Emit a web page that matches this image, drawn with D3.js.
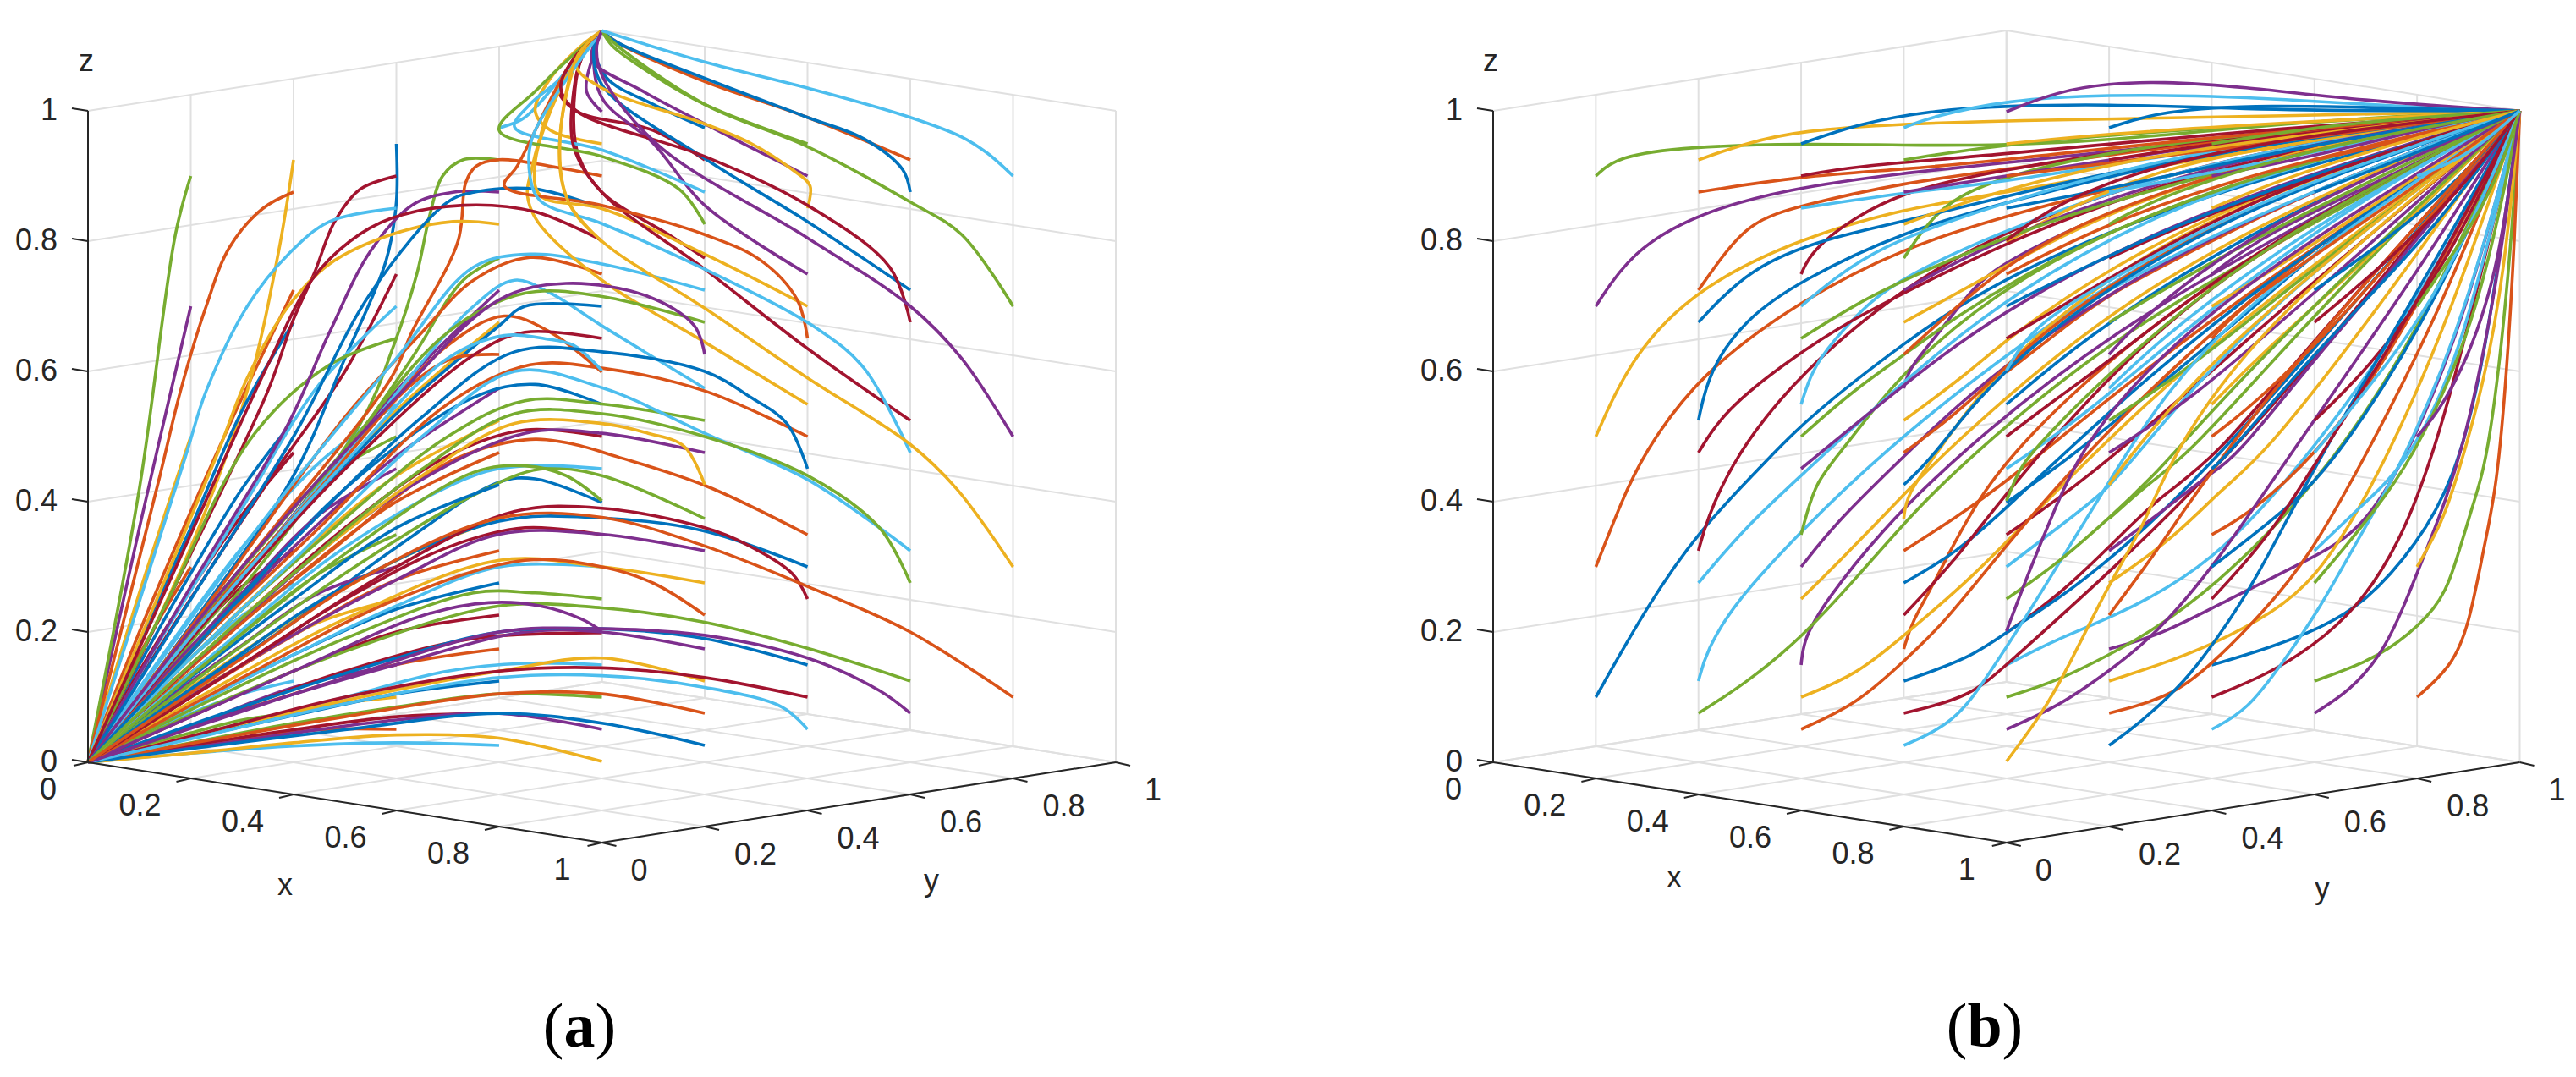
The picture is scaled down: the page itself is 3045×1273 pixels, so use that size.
<!DOCTYPE html>
<html><head><meta charset="utf-8">
<script src="https://cdnjs.cloudflare.com/ajax/libs/d3/7.8.5/d3.min.js"></script>
<style>html,body{margin:0;background:#fff}svg{display:block}</style></head>
<body><div id="c"></div>
<script>
const startVals=[.1,.3,.5,.7,.9];
const tickVals=[0,.2,.4,.6,.8,1];
const lineColors=["#0072BD","#D95319","#EDB120","#7E2F8E","#77AC30","#4DBEEE","#A2142F"];
const captions=["a","b"];
// waypoints after each start: u = x+y, h = apparent height
const pathsA=[
[.1,.058,0,0],[.1,.165,0,0],[.1,.26,0,0],[.1,.36,0,0],[.17,.81,.1,.42,0,0],
[.3,.105,.2,.075,.1,.04,0,0],[.3,.27,.2,.19,.1,.1,0,0],[.3,.42,.2,.29,.1,.15,0,0],[.3,.56,.2,.385,.1,.2,0,0],[.37,.78,.31,.57,.2,.33,0,0],
[.4,.115,.2,.055,0,0],[.45,.29,.3,.2,.15,.105,0,0],[.45,.46,.3,.33,.15,.17,0,0],[.5,.6,.35,.43,.15,.19,0,0],[.6,.86,.58,.77,.5,.62,.4,.44,.2,.21,0,0],
[.6,.15,.4,.105,.2,.055,0,0],[.6,.31,.4,.22,.2,.115,0,0],[.6,.47,.4,.33,.2,.17,0,0],[.73,.74,.63,.62,.47,.44,.25,.22,0,0],[.85,.99,.95,1.08,1,1.123],
[.75,.19,.5,.14,.25,.07,0,0],[.87,.435,.8,.43,.6,.33,.4,.215,.2,.11,0,0],[.9,.66,.81,.685,.7,.64,.5,.47,.25,.24,0,0],[.935,.86,.917,.94,.953,1.08,1,1.123],[.97,1.03,.985,1.09,1,1.123],
[.3,.065,.2,.045,.1,.024,0,0],[.3,.225,.2,.16,.1,.085,0,0],[.3,.38,.2,.265,.1,.14,0,0],[.3,.54,.2,.36,.1,.185,0,0],[.34,.85,.275,.79,.23,.7,.18,.57,.14,.44,0,0],
[.45,.085,.3,.055,.15,.03,0,0],[.45,.26,.3,.18,.15,.095,0,0],[.45,.43,.3,.3,.15,.155,0,0],[.45,.58,.3,.39,.15,.2,0,0],[.53,.88,.48,.83,.44,.75,.4,.68,.35,.57,.2,.32,0,0],
[.6,.105,.4,.072,.2,.037,0,0],[.6,.28,.4,.195,.2,.1,0,0],[.6,.44,.4,.31,.2,.16,0,0],[.6,.57,.4,.38,.2,.19,0,0],[.73,.925,.69,.9,.665,.84,.64,.75,.595,.64,.53,.52,.3,.28,0,0],
[.85,.152,.7,.14,.5,.1,.25,.05,0,0],[.85,.36,.7,.33,.5,.25,.25,.125,0,0],[.87,.58,.75,.56,.5,.42,.25,.21,0,0],[.86,.775,.75,.74,.65,.66,.5,.53,.25,.26,0,0],[.9,.97,.87,1,.9,1.05,.96,1.1,1,1.123],
[1,.2,.85,.2,.6,.15,.3,.08,0,0],[1,.44,.88,.45,.75,.41,.5,.29,.25,.15,0,0],[1,.67,.9,.72,.83,.74,.75,.7,.5,.47,.25,.24,0,0],[1.13,.81,1,.875,.955,.93,.945,.985,.96,1.08,1,1.123],[1.1,1.01,1.01,1.05,.985,1.1,1,1.123],
[.45,.05,.3,.035,.15,.018,0,0],[.45,.215,.3,.15,.15,.08,0,0],[.45,.38,.3,.26,.15,.135,0,0],[.47,.61,.32,.5,.15,.24,0,0],[.47,.83,.39,.78,.31,.7,.23,.57,.19,.47,0,0],
[.6,.07,.4,.05,.2,.026,0,0],[.6,.235,.4,.165,.2,.085,0,0],[.6,.4,.4,.28,.2,.145,0,0],[.6,.54,.4,.37,.2,.19,0,0],[.71,.875,.63,.855,.55,.785,.47,.66,.39,.52,.2,.27,0,0],
[.8,.105,.6,.085,.4,.06,.2,.03,0,0],[.8,.3,.6,.24,.4,.165,.2,.085,0,0],[.85,.51,.7,.47,.5,.36,.25,.185,0,0],[.85,.7,.8,.67,.6,.535,.4,.37,.2,.19,0,0],[.9,.915,.8,.925,.755,.915,.735,.89,.72,.8,.63,.66,.59,.59,.3,.3,0,0],
[1,.16,.8,.14,.5,.095,.25,.05,0,0],[1,.35,.8,.35,.6,.28,.3,.15,0,0],[1,.55,.85,.555,.7,.5,.45,.34,.2,.16,0,0],[1,.765,.86,.78,.75,.76,.6,.62,.35,.38,0,0],[1.1,.97,.95,1,.915,1.035,.955,1.08,1,1.123],
[1.2,.19,1,.205,.8,.2,.6,.16,.3,.085,0,0],[1.2,.425,1.03,.469,.935,.49,.85,.495,.7,.46,.45,.31,.2,.15,0,0],[1.2,.645,1,.74,.875,.83,.855,.87,.86,.9,.92,1.045,1,1.123],[1.2,.855,1.1,.95,1,1.02,.985,1.09,1,1.123],[1.2,1.01,1.1,1.055,1.02,1.1,1,1.123],
[.6,.03,.4,.025,.2,.014,0,0],[.6,.2,.4,.14,.2,.07,0,0],[.6,.36,.4,.25,.2,.13,0,0],[.71,.62,.63,.58,.45,.42,.2,.2,0,0],[.71,.83,.59,.81,.47,.765,.39,.7,.31,.59,.25,.47,0,0],
[.8,.075,.6,.065,.4,.045,.2,.022,0,0],[.87,.26,.75,.26,.5,.19,.25,.1,0,0],[.85,.455,.75,.44,.5,.33,.25,.17,0,0],[.85,.66,.75,.625,.5,.45,.25,.235,0,0],[.87,.88,.75,.875,.7,.86,.55,.72,.4,.5,.2,.25,0,0],
[1,.105,.8,.105,.5,.07,.25,.036,0,0],[1,.3,.8,.31,.5,.22,.25,.115,0,0],[1,.505,.85,.505,.6,.41,.3,.22,0,0],[1,.715,.85,.72,.7,.66,.5,.48,.25,.25,0,0],[1,.94,.83,.975,.86,1.01,.92,1.05,1,1.123],
[1.2,.13,1,.145,.8,.14,.5,.1,.25,.05,0,0],[1.2,.355,1,.375,.8,.37,.5,.27,.25,.14,0,0],[1.2,.57,1,.605,.86,.61,.7,.55,.45,.36,.2,.17,0,0],[1.2,.78,1,.85,.88,.87,.87,.92,.93,1.05,1,1.123],[1.2,.98,1.08,1.03,.98,1.08,1,1.123],
[1.4,.175,1.2,.215,1,.237,.8,.24,.5,.17,.25,.09,0,0],[1.54,.36,1.4,.434,1.2,.505,1,.575,.83,.6,.65,.5,.4,.31,.2,.16,0,0],[1.4,.635,1.2,.757,1,.875,.945,.945,.945,1.03,.96,1.08,1,1.123],[1.4,.83,1.2,.927,1,1.04,.985,1.1,1,1.123],[1.4,.99,1.2,1.045,1.03,1.105,1,1.123],
[.8,.037,.6,.042,.4,.03,.2,.014,0,0],[.96,.22,.88,.24,.78,.245,.65,.225,.4,.14,.2,.07,0,0],[.93,.44,.85,.455,.75,.445,.5,.32,.25,.165,0,0],[.945,.64,.89,.65,.81,.655,.7,.62,.5,.46,.25,.24,0,0],[.87,.845,.73,.855,.59,.835,.51,.8,.435,.74,.35,.61,.2,.35,0,0],
[1,.06,.8,.075,.5,.05,.25,.026,0,0],[1.1,.275,1,.3,.85,.31,.6,.25,.3,.13,0,0],[1.16,.485,1.09,.505,1,.52,.83,.52,.65,.44,.4,.29,.2,.15,0,0],[1.18,.67,1.09,.715,.93,.735,.8,.71,.6,.56,.3,.3,0,0],[1.15,.88,1,.93,.8,.97,.87,1.03,.95,1.09,1,1.123],
[1.35,.085,1.2,.115,1,.133,.8,.13,.5,.09,.25,.045,0,0],[1.37,.29,1.28,.335,1.2,.36,1,.39,.83,.385,.6,.3,.3,.15,0,0],[1.36,.52,1.29,.56,1.2,.6,1,.63,.83,.63,.65,.53,.4,.34,.2,.17,0,0],[1.38,.71,1.31,.77,1.2,.81,1,.855,.81,.885,.835,.915,.945,1.08,1,1.123],[1.405,.885,1.37,.91,1.29,.95,1.2,.98,1,1.035,.95,1.07,1,1.123],
[1.54,.11,1.4,.16,1.2,.195,1,.205,.8,.2,.5,.13,.25,.065,0,0],[1.54,.36,1.4,.44,1.2,.5,1,.535,.83,.535,.65,.45,.4,.29,.2,.15,0,0],[1.51,.605,1.42,.665,1.2,.757,1,.827,.88,.862,.86,.9,.865,.96,1,1.123],[1.56,.76,1.4,.855,1.2,.93,.95,1,.92,1.035,.945,1.08,1,1.123],[1.585,.91,1.51,.957,1.4,.99,1.2,1.05,1.03,1.105,1,1.123],
[1.6,.2,1.4,.27,1.2,.332,1,.376,.8,.375,.55,.29,.3,.16,0,0],[1.69,.42,1.6,.488,1.4,.59,1.2,.697,1,.8,.935,.86,.918,.945,.953,1.085,1,1.123],[1.7,.62,1.6,.7,1.4,.805,1.11,.947,1,1.055,.99,1.1,1,1.123],[1.7,.81,1.6,.86,1.4,.945,1.2,1.01,1.03,1.1,1,1.123],[1.75,.935,1.7,.96,1.6,.99,1.4,1.035,1.2,1.075,1,1.123]
];
const pathsB=[
[.3,.24,.4,.355,.53,.46,.6,.52,.8,.645,1,.75,1.4,.88,2,1],[.25,.4,.29,.47,.4,.595,.6,.71,.8,.79,1,.84,1.4,.92,2,1],[.27,.625,.4,.73,.6,.805,.8,.85,1,.875,1.4,.93,2,1],[.27,.785,.4,.843,.57,.88,.8,.905,1,.92,1.4,.955,2,1],[.24,.93,.38,.945,.6,.95,.8,.947,1,.947,1.2,.955,1.4,.97,1.7,.99,2,1],
[.415,.17,.47,.245,.6,.355,.75,.47,1,.63,1.4,.84,2,1],[.415,.37,.47,.47,.6,.6,.8,.73,1,.82,1.4,.93,2,1],[.42,.6,.49,.68,.6,.74,.8,.815,1,.86,1.4,.94,2,1],[.44,.77,.5,.83,.6,.855,.8,.89,1,.91,1.4,.955,2,1],[.49,.95,.6,.97,.8,.98,1,.985,1.4,.99,2,1],
[.605,.19,.65,.25,.75,.35,.9,.47,1.2,.66,1.6,.84,2,1],[.61,.38,.63,.43,.67,.47,.73,.53,.8,.6,1,.74,1.4,.89,2,1],[.62,.6,.66,.645,.73,.705,.8,.745,1,.82,1.4,.93,2,1],[.62,.785,.7,.835,.8,.875,.95,.905,1.4,.96,2,1],[.71,.98,.85,1,1,1.008,1.2,1.01,1.4,1.005,1.6,1,2,1],
[.815,.215,.86,.275,.95,.42,1.1,.55,1.4,.75,2,1],[.805,.41,.86,.47,.95,.57,1.1,.69,1.4,.85,2,1],[.81,.605,.86,.65,.93,.725,1,.775,1.4,.915,2,1],[.86,.845,.95,.89,1.2,.94,1.6,.975,2,1],[.85,.99,1,1.017,1.2,1.025,1.4,1.023,1.6,1.015,1.8,1.005,2,1],
[1.1,.255,1.2,.33,1.3,.41,1.4,.46,1.6,.65,2,1],[1.12,.465,1.3,.58,1.5,.71,1.7,.85,2,1],[1.1,.66,1.2,.72,1.4,.8,1.6,.88,2,1],[1.13,.855,1.3,.91,1.5,.945,2,1],[1.1,1.03,1.2,1.042,1.3,1.045,1.45,1.038,1.7,1.015,1.95,1.002,2,1],
[.49,.12,.6,.19,.71,.285,.82,.385,.93,.47,1.2,.65,1.6,.83,2,1],[.49,.36,.6,.44,.75,.55,1,.72,1.4,.89,2,1],[.45,.54,.58,.62,.7,.68,.8,.72,1,.8,1.4,.92,2,1],[.5,.76,.65,.805,.8,.83,1,.87,1.4,.94,2,1],[.6,.9,.8,.91,1,.925,1.4,.96,2,1],
[.71,.135,.8,.195,.93,.28,1.1,.42,1.4,.65,2,1],[.67,.37,.8,.47,1,.62,1.4,.82,2,1],[.65,.535,.71,.575,.8,.625,1,.74,1.4,.89,2,1],[.66,.74,.75,.79,.95,.85,1.4,.95,2,1],[.7,.915,.95,.93,1.4,.965,2,1],
[.93,.16,1,.2,1.1,.25,1.2,.31,1.4,.45,2,1],[.9,.375,1,.43,1.2,.56,1.5,.74,2,1],[.93,.6,1,.65,1.2,.76,1.5,.88,2,1],[.93,.78,1.1,.84,1.5,.94,2,1],[1,.95,1.4,.975,2,1],
[1.1,.19,1.2,.22,1.4,.3,1.6,.48,1.8,.7,2,1],[1.15,.43,1.4,.6,1.6,.74,2,1],[1.15,.65,1.4,.78,1.7,.9,2,1],[1.2,.83,1.5,.91,2,1],[1.2,.965,1.5,.98,2,1],
[1.3,.195,1.42,.245,1.6,.315,1.7,.36,1.8,.5,1.9,.7,2,1],[1.28,.43,1.35,.47,1.5,.6,1.7,.77,2,1],[1.3,.65,1.5,.77,1.7,.87,2,1],[1.3,.81,1.5,.875,2,1],[1.3,1,1.5,1.01,1.8,1.003,2,1],
[.71,.09,.8,.155,.88,.215,.97,.305,1.2,.52,1.6,.8,2,1],[.67,.305,.8,.41,.87,.47,1.2,.7,1.6,.87,2,1],[.8,.58,1,.7,1.4,.86,2,1],[.71,.705,.8,.74,1,.81,1.4,.91,2,1],[.8,.875,1,.89,1.4,.945,2,1],
[.93,.1,1,.15,1.2,.29,1.5,.52,2,1],[.9,.32,1,.39,1.2,.54,1.5,.74,2,1],[.93,.55,1.1,.69,1.5,.87,2,1],[.95,.74,1.2,.85,1.6,.95,2,1],[1,.9,1.4,.95,2,1],
[1.1,.125,1.2,.165,1.27,.195,1.4,.265,1.6,.42,1.8,.65,2,1],[1.1,.36,1.2,.42,1.25,.47,1.5,.7,2,1],[1.1,.56,1.2,.615,1.5,.8,2,1],[1.2,.78,1.5,.88,2,1],[1.2,.92,1.5,.95,2,1],
[1.3,.15,1.4,.18,1.52,.23,1.6,.28,1.7,.4,1.85,.65,2,1],[1.32,.395,1.4,.445,1.45,.47,1.6,.62,1.8,.8,2,1],[1.35,.6,1.6,.76,2,1],[1.4,.81,1.7,.91,2,1],[1.4,.95,1.7,.975,2,1],
[1.51,.175,1.61,.205,1.7,.245,1.8,.335,1.87,.43,1.93,.6,2,1],[1.48,.385,1.6,.47,1.75,.62,2,1],[1.5,.63,1.7,.77,2,1],[1.5,.81,1.75,.9,2,1],[1.6,.975,1.8,.99,2,1],
[.9,.06,.97,.14,1.06,.25,1.21,.445,1.4,.68,2,1],[.9,.31,.97,.385,1.2,.6,1.5,.8,2,1],[.86,.47,1,.62,1.4,.84,2,1],[.93,.72,1.1,.82,1.5,.93,2,1],[.95,.87,1.3,.94,2,1],
[1.1,.085,1.2,.14,1.29,.195,1.41,.306,1.55,.47,1.8,.75,2,1],[1.1,.305,1.2,.375,1.29,.44,1.5,.63,2,1],[1.15,.53,1.4,.7,1.7,.87,2,1],[1.15,.72,1.5,.88,2,1],[1.2,.88,1.6,.95,2,1],
[1.32,.1,1.4,.15,1.5,.23,1.59,.315,1.7,.47,1.85,.7,2,1],[1.32,.34,1.42,.42,1.5,.47,1.7,.67,2,1],[1.35,.55,1.6,.72,2,1],[1.4,.77,1.7,.89,2,1],[1.5,.92,1.8,.97,2,1],
[1.51,.135,1.6,.18,1.68,.235,1.76,.325,1.85,.5,2,1],[1.55,.39,1.65,.47,1.85,.72,2,1],[1.5,.56,1.7,.72,2,1],[1.55,.77,1.8,.9,2,1],[1.6,.93,1.85,.98,2,1],
[1.69,.15,1.76,.18,1.84,.237,1.87,.29,1.91,.4,1.94,.47,1.98,.75,2,1],[1.7,.4,1.77,.45,1.88,.6,2,1],[1.7,.6,1.85,.75,2,1],[1.72,.79,1.88,.89,2,1],[1.75,.95,2,1],
[1.07,.075,1.12,.145,1.2,.275,1.27,.365,1.32,.47,1.5,.68,2,1],[1.04,.285,1.1,.4,1.14,.47,1.25,.59,1.5,.76,2,1],[1.02,.44,1.04,.47,1.2,.6,1.5,.8,2,1],[1.05,.67,1.2,.74,1.5,.87,2,1],[1.1,.86,1.3,.92,1.6,.965,2,1],
[1.26,.06,1.35,.125,1.41,.19,1.48,.27,1.61,.47,1.8,.72,2,1],[1.28,.31,1.34,.38,1.42,.47,1.6,.65,2,1],[1.24,.47,1.4,.62,1.7,.82,2,1],[1.26,.68,1.5,.83,2,1],[1.3,.87,1.6,.945,2,1],
[1.47,.08,1.54,.155,1.61,.235,1.69,.35,1.78,.47,1.9,.7,2,1],[1.47,.31,1.54,.38,1.61,.47,1.8,.7,2,1],[1.43,.47,1.6,.63,1.85,.83,2,1],[1.47,.71,1.7,.83,2,1],[1.55,.9,1.8,.96,2,1],
[1.67,.11,1.73,.165,1.77,.23,1.82,.33,1.89,.47,1.96,.75,2,1],[1.66,.33,1.74,.41,1.8,.48,1.92,.68,2,1],[1.68,.55,1.85,.72,2,1],[1.7,.74,1.88,.87,2,1],[1.75,.92,2,1],
[1.865,.145,1.9,.205,1.93,.33,1.955,.42,1.975,.6,1.99,.8,2,1],[1.85,.37,1.875,.43,1.93,.58,1.97,.75,2,1],[1.84,.535,1.9,.62,1.96,.76,2,1],[1.87,.78,1.95,.88,2,1],[1.9,.93,2,1]
];

const W=3045,H=1273,FONT="'Liberation Sans',Arial,sans-serif",skew=95/770;
const svg=d3.select("#c").append("svg").attr("width",W).attr("height",H);
const fmt=v=>String(+v.toFixed(1));

function panel(cfg){
  const {left,halfW,paths,caption,capX,curve,xLab,yLab,zX}=cfg;
  const lineGen=d3.line().curve(curve);
  const uS=d3.scaleLinear().domain([0,2]).range([left,left+2*halfW]);
  const hS=d3.scaleLinear().domain([0,1]).range([901,131]);
  const proj=(x,y,z)=>[uS(x+y),hS(z-skew*(x-y))];
  const g=svg.append("g");
  const seg=(a,b,col,w)=>g.append("path").attr("d",d3.line()([a,b])).attr("stroke",col).attr("stroke-width",w).attr("fill","none");
  const grid="#e0e0e0";
  tickVals.forEach(t=>{
    seg(proj(t,0,0),proj(t,1,0),grid,2);
    seg(proj(0,t,0),proj(1,t,0),grid,2);
    seg(proj(0,t,0),proj(0,t,1),grid,2);
    seg(proj(t,1,0),proj(t,1,1),grid,2);
    seg(proj(0,0,t),proj(0,1,t),grid,2);
    seg(proj(0,1,t),proj(1,1,t),grid,2);
  });
  let n=0;
  startVals.forEach(x=>startVals.forEach(y=>startVals.forEach(z=>{
    const row=paths[n];
    const pts=[proj(x,y,z)];
    for(let i=0;i<row.length;i+=2) pts.push([uS(row[i]),hS(row[i+1])]);
    g.append("path").attr("d",lineGen(pts)).attr("fill","none")
      .attr("stroke",lineColors[n%7]).attr("stroke-width",3.6).attr("stroke-linecap","butt").attr("stroke-linejoin","round");
    n++;
  })));
  const ax="#262626";
  seg(proj(0,0,0),proj(0,0,1),ax,2); seg(proj(0,0,0),proj(1,0,0),ax,2); seg(proj(1,0,0),proj(1,1,0),ax,2);
  const label=(s,px,py,anchor="middle")=>g.append("text").attr("x",px).attr("y",py).attr("text-anchor",anchor)
    .attr("dominant-baseline","central").attr("font-family",FONT).attr("font-size",36).attr("fill",ax).text(s);
  tickVals.forEach(t=>{
    const pz=proj(0,0,t), px=proj(t,0,0), py=proj(1,t,0);
    seg(pz,[pz[0]-19,pz[1]-3],ax,2);
    seg(px,[px[0]-17,px[1]+4],ax,2);
    seg(py,[py[0]+17,py[1]+4],ax,2);
    label(fmt(t),pz[0]-36,pz[1]-2,"end");
    const single=t===0||t===1;
    label(fmt(t),px[0]+(single?-47:-60),px[1]+31);
    label(fmt(t),py[0]+(single?44:60),py[1]+32);
  });
  label("x",xLab[0],xLab[1]);
  label("y",yLab[0],yLab[1]);
  label("z",zX,71);
  const cap=svg.append("text").attr("x",capX).attr("y",1237).attr("text-anchor","middle")
    .attr("font-family","'Liberation Serif',serif").attr("font-size",74).attr("fill","#000");
  cap.append("tspan").text("(");
  cap.append("tspan").attr("font-weight","bold").text(caption);
  cap.append("tspan").text(")");
}
panel({left:104,halfW:607.5,paths:pathsA,caption:captions[0],capX:685,curve:d3.curveCatmullRom.alpha(.5),xLab:[337,1045],yLab:[1101,1040],zX:102});
panel({left:1765,halfW:606.75,paths:pathsB,caption:captions[1],capX:2346,curve:d3.curveBasis,xLab:[1979,1036],yLab:[2745,1049],zX:1762});
</script></body></html>
